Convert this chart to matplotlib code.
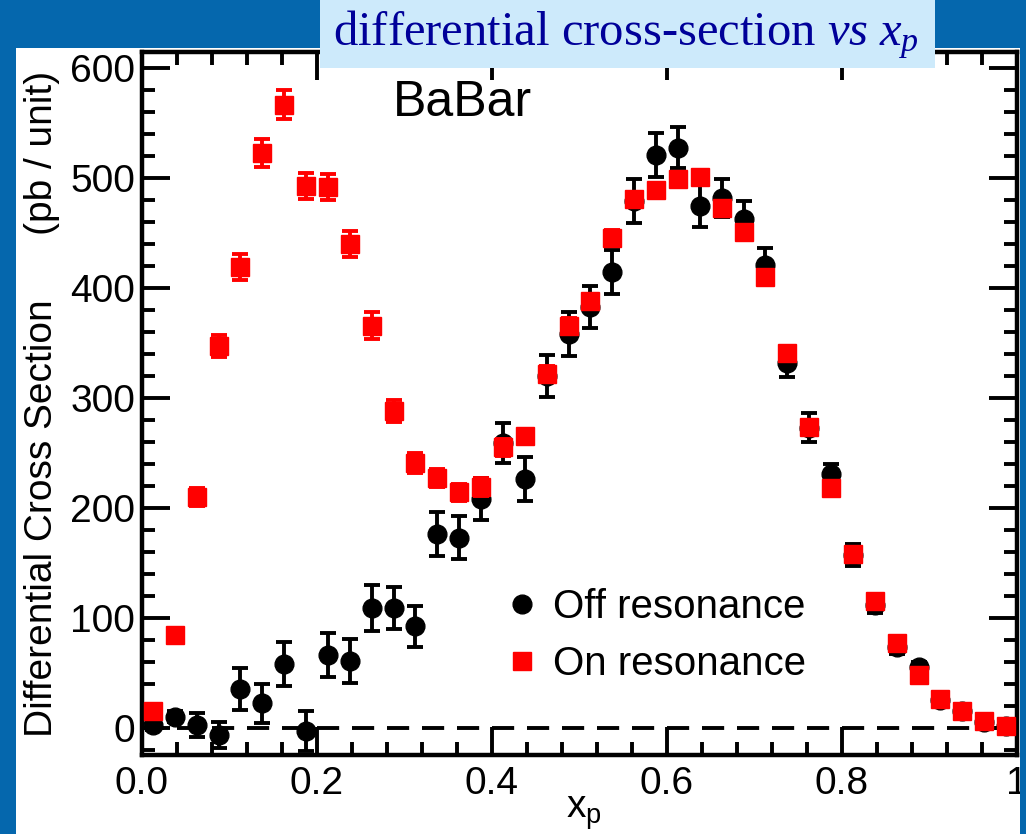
import numpy as np
import matplotlib
matplotlib.use("Agg")
import matplotlib.pyplot as plt
from matplotlib.patches import Rectangle
from matplotlib.lines import Line2D
from matplotlib.ticker import MultipleLocator, FixedLocator, FixedFormatter

plt.rcParams['font.family'] = ['Liberation Sans', 'DejaVu Sans']
plt.rcParams['mathtext.fontset'] = 'custom'
plt.rcParams['mathtext.rm'] = 'Liberation Serif'
plt.rcParams['mathtext.it'] = 'Liberation Serif:italic'

# bin centres in x_p
xp = [0.0125, 0.0375, 0.0625, 0.0875, 0.1125, 0.1375, 0.1625, 0.1875, 0.2125, 0.2375,
      0.2625, 0.2875, 0.3125, 0.3375, 0.3625, 0.3875, 0.4125, 0.4375, 0.4625, 0.4875,
      0.5125, 0.5375, 0.5625, 0.5875, 0.6125, 0.6375, 0.6625, 0.6875, 0.7125, 0.7375,
      0.7625, 0.7875, 0.8125, 0.8375, 0.8625, 0.8875, 0.9125, 0.9375, 0.9625, 0.9875]

# off resonance (black circles)
off_val = [2, 10, 2, -7, 35, 22, 58, -3, 66, 61,
           109, 109, 92, 176, 173, 208, 259, 226, 320, 358,
           383, 415, 479, 521, 528, 475, 482, 463, 421, 332,
           273, 231, 157, 112, 73, 55, 25, 15, 5, 1]
off_err = [4, 5, 11, 12, 19, 18, 20, 18, 20, 20,
           21, 19, 19, 20, 20, 19, 18, 20, 19, 20,
           19, 20, 20, 20, 19, 19, 17, 16, 16, 13,
           13, 9, 10, 8, 6, 5, 3, 3, 2, 2]

# on resonance (red squares)
on_val = [15, 84, 210, 347, 419, 523, 567, 493, 492, 440,
          366, 288, 241, 227, 214, 219, 255, 265, 322, 366,
          388, 446, 481, 489, 499, 501, 473, 451, 410, 341,
          274, 218, 158, 115, 77, 48, 26, 15, 6, 1]
on_err = [3, 5, 8, 10, 12, 13, 13, 12, 12, 12,
          12, 10, 9, 8, 8, 8, 8, 7, 7, 7,
          7, 7, 7, 7, 7, 7, 6, 6, 6, 6,
          6, 5, 5, 4, 4, 3, 3, 2, 2, 2]

xtick_vals = [0.0, 0.2, 0.4, 0.6, 0.8, 1.0]
xtick_labels = ['0.0', '0.2', '0.4', '0.6', '0.8', '1']

W, H = 1026, 834
blue = '#0567ad'

fig = plt.figure(figsize=(W / 100, H / 100), dpi=100)
fig.patch.set_facecolor(blue)

# white panel behind the plot
fig.add_artist(Rectangle((16 / W, 0), (1020 - 16) / W, (H - 48) / H,
                         transform=fig.transFigure, fc='white', ec='none', zorder=-1))

ax = fig.add_axes([142 / W, 79 / H, 875 / W, 703 / H])

ax.axhline(0, color='black', lw=2.8, dashes=(5.7, 3.3), zorder=1)

ax.errorbar(xp, off_val, yerr=off_err, fmt='o', color='black', ms=13.5,
            elinewidth=2.8, capsize=6, capthick=2.8, zorder=3)
ax.errorbar(xp, on_val, yerr=on_err, fmt='s', color='red', ms=12.5,
            elinewidth=2.8, capsize=6, capthick=2.8, zorder=4)

ax.set_xlim(0, 1)
ax.set_ylim(-25, 615)

ax.xaxis.set_major_locator(FixedLocator(xtick_vals))
ax.xaxis.set_major_formatter(FixedFormatter(xtick_labels))
ax.xaxis.set_minor_locator(MultipleLocator(0.04))
ax.yaxis.set_major_locator(MultipleLocator(100))
ax.yaxis.set_minor_locator(MultipleLocator(20))

ax.tick_params(which='both', direction='in', top=True, right=True, width=2.8)
ax.tick_params(which='major', length=20, labelsize=28)
ax.tick_params(axis='x', which='major', pad=8)
ax.tick_params(axis='y', which='major', pad=5)
ax.tick_params(which='minor', length=9.5)
for sp in ax.spines.values():
    sp.set_linewidth(3.2)

ax.set_ylabel('Differential Cross Section      (pb / unit)', fontsize=28)
ax.yaxis.set_label_coords(-0.094, 0.5)
ax.set_xlabel(r'$\mathregular{x_p}$', fontsize=28)
ax.xaxis.set_label_coords(0.505, -0.056)

ax.text(0.287, 0.909, 'BaBar', transform=ax.transAxes, fontsize=36,
        ha='left', va='baseline')

handles = [Line2D([], [], marker='o', ls='', color='black', ms=13.5),
           Line2D([], [], marker='s', ls='', color='red', ms=12.5)]
ax.legend(handles, ['Off resonance', 'On resonance'], loc='upper left',
          bbox_to_anchor=(0.4126, 0.2375), frameon=False, fontsize=29,
          handlelength=0.95, handletextpad=0.28, borderpad=0, borderaxespad=0,
          labelspacing=0.48)

# right border strip over the clipped "1" label
fig.add_artist(Rectangle((1020 / W, 0), 6 / W, 1, transform=fig.transFigure,
                         fc=blue, ec='none', zorder=10))

# title box
fig.add_artist(Rectangle((320 / W, 1 - 68 / H), 615 / W, 68 / H,
                         transform=fig.transFigure, fc='#cdeafb', ec='none', zorder=10))
fig.text(333 / W, 1 - 45 / H, r'differential cross-section $vs\ x_p$',
         family='Liberation Serif', fontsize=35, color='#000099',
         ha='left', va='baseline', zorder=11)

fig.savefig('out.png', dpi=100, facecolor=fig.get_facecolor())
